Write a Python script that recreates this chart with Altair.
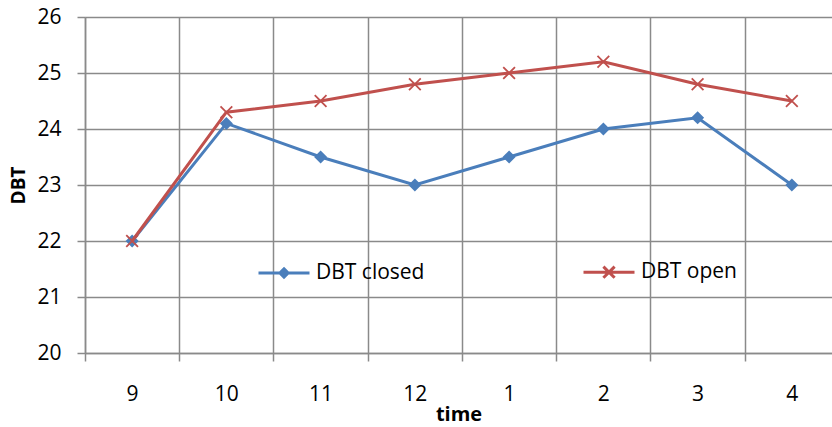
import altair as alt
import pandas as pd

times = ["9", "10", "11", "12", "1", "2", "3", "4"]
closed = [22, 24.1, 23.5, 23, 23.5, 24, 24.2, 23]
opened = [22, 24.3, 24.5, 24.8, 25, 25.2, 24.8, 24.5]
series_names = ["DBT closed", "DBT open"]
colors = ["#4A7EBB", "#C0504D"]

rows = []
for i, t in enumerate(times):
    rows.append({"i": i, "time": t, "series": series_names[0], "v": closed[i]})
for i, t in enumerate(times):
    rows.append({"i": i, "time": t, "series": series_names[1], "v": opened[i]})
df = pd.DataFrame(rows)

FONT = "Open Sans"
GRID = "#8a8a8a"
FS = 21
n = len(times)
label_js = "[" + ",".join("'%s'" % t for t in times) + "]"

xscale = alt.Scale(domain=[-0.5, 7.426], nice=False, zero=False)
yscale = alt.Scale(domain=[20, 26], nice=False, zero=False)

xaxis = alt.Axis(
    title="time", values=[k - 0.5 for k in range(n)],
    labelExpr=label_js + "[round(datum.value + 0.5)]",
    labelOffset=47, labelOverlap=False, labelFlush=False, labelBound=False,
    grid=True, gridColor=GRID, gridWidth=1.5, gridOpacity=1,
    domainColor=GRID, domainWidth=1.5, tickColor=GRID, tickWidth=1.5, tickSize=8,
    labelFont=FONT, labelFontSize=FS, labelColor="black", labelPadding=22,
    titleFont=FONT, titleFontSize=20, titleFontWeight="bold", titleColor="black",
    titlePadding=0,
)
yaxis = alt.Axis(
    title="DBT", values=[20, 21, 22, 23, 24, 25, 26], format="d",
    grid=True, gridColor=GRID, gridWidth=1.5, gridOpacity=1,
    domainColor=GRID, domainWidth=1.5, tickColor=GRID, tickWidth=1.5, tickSize=8,
    labelFont=FONT, labelFontSize=FS, labelColor="black", labelPadding=16,
    titleFont=FONT, titleFontSize=19, titleFontWeight="bold", titleColor="black",
    titlePadding=8,
)

base = alt.Chart(df)

def series_layers(name, color, shape, filled, size, sw):
    d = base.transform_filter(alt.datum.series == name)
    line = d.mark_line(color=color, strokeWidth=3).encode(
        x=alt.X("i:Q", scale=xscale, axis=xaxis),
        y=alt.Y("v:Q", scale=yscale, axis=yaxis),
    )
    pts = d.mark_point(shape=shape, filled=filled, color=color, size=size,
                       strokeWidth=sw, opacity=1).encode(
        x=alt.X("i:Q", scale=xscale),
        y=alt.Y("v:Q", scale=yscale),
    )
    return line, pts

l1, p1 = series_layers(series_names[0], colors[0], "diamond", True, 170, 1)
l2, p2 = series_layers(series_names[1], colors[1], "M-0.9,-0.9L0.9,0.9M-0.9,0.9L0.9,-0.9", False, 170, 1.8)

leg_paths = [
    "M-1,0H1M0,-0.16L0.16,0L0,0.16L-0.16,0Z",
    "M-1,0H1M-0.22,-0.22L0.22,0.22M-0.22,0.22L0.22,-0.22",
]
legend = alt.Legend(
    title=None, orient="none", legendX=172, legendY=228, direction="horizontal",
    columns=2, columnPadding=152, symbolSize=2601, symbolStrokeWidth=3,
    symbolOpacity=1, labelFont=FONT, labelFontSize=FS, labelColor="black",
    labelOffset=5, padding=0,
)
leg = base.mark_point(opacity=0).encode(
    x=alt.X("i:Q", scale=xscale),
    y=alt.Y("v:Q", scale=yscale),
    shape=alt.Shape("series:N", scale=alt.Scale(domain=series_names, range=leg_paths), legend=legend),
    fill=alt.Fill("series:N", scale=alt.Scale(domain=series_names, range=colors), legend=legend),
    stroke=alt.Stroke("series:N", scale=alt.Scale(domain=series_names, range=colors), legend=legend),
)

chart = alt.layer(l1, p1, l2, p2, leg).properties(
    width=747, height=336,
    autosize=alt.AutoSizeParams(type="none"),
    padding={"left": 85, "top": 17, "right": 0, "bottom": 74},
    background="white",
).configure_view(stroke=None)

chart.save("out.html", embed_options={"renderer": "svg", "actions": False})
